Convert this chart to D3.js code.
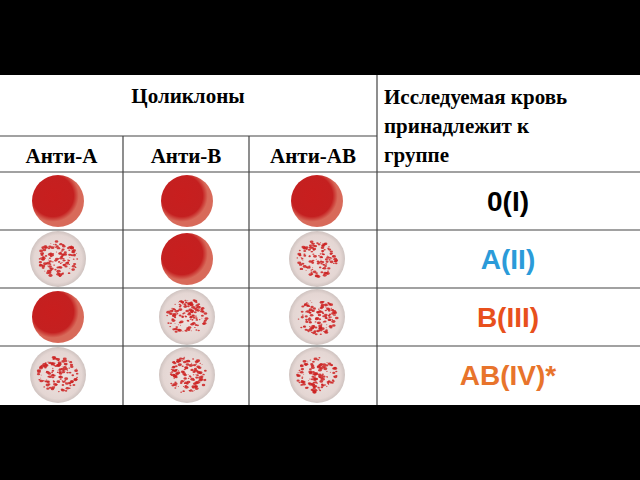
<!DOCTYPE html>
<html><head><meta charset="utf-8">
<script src="https://cdn.jsdelivr.net/npm/d3@7"></script>
<style>body{margin:0;background:#000}</style>
</head><body>
<svg id="chart" width="640" height="480"></svg>
<script>
const reagents = ["Анти-А", "Анти-В", "Анти-АВ"]
const groups = ["0(I)", "A(II)", "B(III)", "AB(IV)*"]
const groupColors = ["#000000", "#2b9bd9", "#e8501c", "#e8742c"]
// true = agglutination (speckled), false = uniform red drop
const agglutination = [
  [false, false, false],
  [true, false, true],
  [false, true, true],
  [true, true, true]
]

const svg = d3.select("#chart")
const tableTop = 75, tableBottom = 405
const colX = [0, 123, 249, 377, 640]
const rowY = [172, 230, 288, 346, 404]

const defs = svg.append("defs")
const rg = defs.append("radialGradient").attr("id", "drop").attr("cx", "40%").attr("cy", "40%")
rg.append("stop").attr("offset", "0%").attr("stop-color", "#c81e1e")
rg.append("stop").attr("offset", "80%").attr("stop-color", "#c42020")
rg.append("stop").attr("offset", "100%").attr("stop-color", "#d86a5a")
const pg = defs.append("radialGradient").attr("id", "pale")
pg.append("stop").attr("offset", "0%").attr("stop-color", "#efe3e1")
pg.append("stop").attr("offset", "85%").attr("stop-color", "#e4d6d3")
pg.append("stop").attr("offset", "100%").attr("stop-color", "#cfc3c0")

svg.append("rect").attr("x", 0).attr("y", tableTop).attr("width", 640).attr("height", tableBottom - tableTop).attr("fill", "#fff")

const line = (x1, y1, x2, y2) => svg.append("line").attr("x1", x1).attr("y1", y1).attr("x2", x2).attr("y2", y2)
  .attr("stroke", "#444").attr("stroke-width", 1.2)
line(0, 136, 377, 136)
;[123, 249].forEach(x => line(x, 136, x, tableBottom))
line(377, tableTop, 377, tableBottom)
rowY.slice(0, 4).forEach(y => line(0, y, 640, y))

const serif = "'Liberation Serif', 'DejaVu Serif', serif"
svg.append("text").attr("x", 188).attr("y", 103).attr("text-anchor", "middle")
  .attr("font-family", serif).attr("font-weight", "bold").attr("font-size", 21).text("Цоликлоны")
reagents.forEach((r, i) => svg.append("text").attr("x", (colX[i] + colX[i + 1]) / 2).attr("y", 163)
  .attr("text-anchor", "middle").attr("font-family", serif).attr("font-weight", "bold").attr("font-size", 21).text(r))
;["Исследуемая кровь", "принадлежит к", "группе"].forEach((t, i) => svg.append("text")
  .attr("x", 384).attr("y", 104 + i * 29).attr("font-family", serif).attr("font-weight", "bold").attr("font-size", 21).text(t))

const y = d3.scaleBand().domain(d3.range(groups.length)).range([172, 404])
const cx = [58, 187, 317]

// deterministic speckle texture
let seed = 7
const rnd = () => (seed = (seed * 16807) % 2147483647) / 2147483647

agglutination.forEach((row, r) => {
  row.forEach((agg, c) => {
    const g = svg.append("g").attr("transform", `translate(${cx[c]},${y(r) + y.bandwidth() / 2})`)
    if (!agg) {
      g.append("circle").attr("r", 26).attr("fill", "url(#drop)")
    } else {
      g.append("circle").attr("r", 28).attr("fill", "url(#pale)")
      const pts = d3.range(140).map(() => {
        const a = rnd() * 2 * Math.PI, d = Math.sqrt(rnd()) * 20
        return [Math.cos(a) * d, Math.sin(a) * d * 0.9, 0.5 + rnd() * 1.6]
      })
      g.selectAll("ellipse").data(pts).join("ellipse")
        .attr("cx", d => d[0]).attr("cy", d => d[1]).attr("rx", d => d[2]).attr("ry", d => d[2] * 0.7)
        .attr("fill", "#cc2222").attr("opacity", 0.85)
    }
  })
  svg.append("text").attr("x", 508).attr("y", y(r) + y.bandwidth() / 2 + 10).attr("text-anchor", "middle")
    .attr("font-family", "'Liberation Sans', Arial, sans-serif").attr("font-weight", "bold").attr("font-size", 28)
    .attr("fill", groupColors[r]).text(groups[r])
})
</script>
</body></html>
